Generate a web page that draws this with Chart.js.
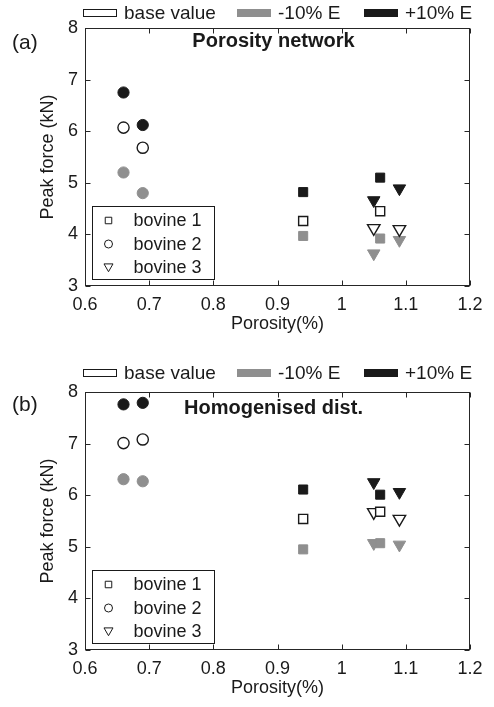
<!DOCTYPE html>
<html>
<head>
<meta charset="utf-8">
<script src="https://cdn.jsdelivr.net/npm/chart.js@4.4.1/dist/chart.umd.min.js"></script>
<style>
  html, body { margin: 0; padding: 0; background: #fff; overflow: hidden; }
  .panel { position: absolute; left: 0; width: 494px; overflow: hidden; }
  #panelA { top: 0; height: 364px; }
  #panelB { top: 364px; height: 343px; }
</style>
</head>
<body>
<div class="panel" id="panelA"><canvas id="chartA" width="494" height="364"></canvas></div>
<div class="panel" id="panelB"><canvas id="chartB" width="494" height="364"></canvas></div>
<script>
// porosity of the two samples of each bovine
const porosityBovine1 = [0.94, 1.06];
const porosityBovine2 = [0.66, 0.69];
const porosityBovine3 = [1.05, 1.09];

// peak force (kN): rows are [base value, -10% E, +10% E], one entry per sample
const networkBovine1 = [[4.26, 4.45], [3.97, 3.92], [4.82, 5.10]];
const networkBovine2 = [[6.07, 5.68], [5.20, 4.80], [6.75, 6.12]];
const networkBovine3 = [[4.12, 4.10], [3.63, 3.89], [4.66, 4.89]];

const homogBovine1 = [[5.54, 5.68], [4.95, 5.07], [6.11, 6.01]];
const homogBovine2 = [[7.01, 7.08], [6.31, 6.27], [7.76, 7.79]];
const homogBovine3 = [[5.67, 5.54], [5.07, 5.04], [6.25, 6.06]];

const bovineLabels = ['bovine 1', 'bovine 2', 'bovine 3'];
const conditionLabels = ['base value', '-10% E', '+10% E'];
const xTicks = [0.6, 0.7, 0.8, 0.9, 1.0, 1.1, 1.2];
const xTickLabels = ['0.6', '0.7', '0.8', '0.9', '1', '1.1', '1.2'];
const yTicks = [3, 4, 5, 6, 7, 8];
const yTickLabels = ['3', '4', '5', '6', '7', '8'];

const FONT = "'Liberation Sans', Arial, Helvetica, sans-serif";
const INK = '#1a1a1a';
const GRAY = '#8f8f8f';
const conditionFill = ['#ffffff', GRAY, INK];
const conditionStroke = [INK, GRAY, INK];
const shapes = ['rect', 'circle', 'triangle'];
const shapeRadius = [6.4, 5.6, 7.2];
const shapeRotation = [0, 0, 180];

function buildDatasets(porosity, forces) {
  const sets = [];
  forces.forEach((rows, b) => {
    rows.forEach((vals, c) => {
      sets.push({
        label: bovineLabels[b] + ' ' + conditionLabels[c],
        data: porosity[b].map((px, i) => ({ x: px, y: vals[i] })),
        pointStyle: shapes[b],
        pointRotation: shapeRotation[b],
        pointRadius: shapeRadius[b],
        pointHoverRadius: shapeRadius[b],
        pointBackgroundColor: conditionFill[c],
        pointBorderColor: conditionStroke[c],
        pointBorderWidth: c === 0 ? 1.4 : 1,
        showLine: false
      });
    });
  });
  return sets;
}

// box, inward ticks, panel tag, heading, and both legends
const decorPlugin = {
  id: 'decor',
  afterDraw(chart, args, o) {
    const { ctx, chartArea: a, scales: { x, y } } = chart;
    const L = Math.round(a.left) + 0.5, R = Math.round(a.right) - 0.5;
    const T = Math.round(a.top) + 0.5, B = Math.round(a.bottom) - 0.5;
    ctx.save();
    ctx.strokeStyle = '#262626';
    ctx.lineWidth = 1;
    ctx.strokeRect(L, T, R - L, B - T);
    ctx.beginPath();
    xTicks.forEach(v => {
      const px = Math.round(x.getPixelForValue(v)) + 0.5;
      ctx.moveTo(px, B); ctx.lineTo(px, B - 5);
      ctx.moveTo(px, T); ctx.lineTo(px, T + 5);
    });
    yTicks.forEach(v => {
      const py = Math.round(y.getPixelForValue(v)) + 0.5;
      ctx.moveTo(L, py); ctx.lineTo(L + 5, py);
      ctx.moveTo(R, py); ctx.lineTo(R - 5, py);
    });
    ctx.stroke();

    ctx.fillStyle = INK;
    ctx.textBaseline = 'middle';
    ctx.font = '21px ' + FONT;
    ctx.textAlign = 'left';
    ctx.fillText(o.tag, 12, o.tagY);

    ctx.font = 'bold 20px ' + FONT;
    ctx.textAlign = 'center';
    ctx.fillText(o.heading, (a.left + a.right) / 2 - 4, o.headingY);

    // condition legend above the axes
    ctx.font = '19px ' + FONT;
    ctx.textAlign = 'left';
    const lx = [83, 237, 364];
    conditionLabels.forEach((lab, c) => {
      ctx.fillStyle = conditionFill[c];
      ctx.fillRect(lx[c], o.legendY - 4, 34, 8);
      if (c === 0) {
        ctx.strokeStyle = INK;
        ctx.strokeRect(lx[c] + 0.5, o.legendY - 3.5, 33, 7);
      }
      ctx.fillStyle = INK;
      ctx.fillText(lab, lx[c] + 41, o.legendY + 1);
    });

    // bovine legend inside the axes
    const bx = a.left + 7.5, by = Math.round(a.bottom) - 79.5;
    ctx.fillStyle = '#fff';
    ctx.fillRect(bx, by, 122, 73);
    ctx.strokeStyle = INK;
    ctx.strokeRect(bx, by, 122, 73);
    ctx.font = '18px ' + FONT;
    bovineLabels.forEach((lab, b) => {
      const ry = by + 14 + b * 23.5;
      ctx.fillStyle = '#fff';
      ctx.strokeStyle = INK;
      Chart.helpers.drawPoint(ctx, {
        pointStyle: shapes[b], rotation: shapeRotation[b],
        radius: b === 2 ? 5.2 : (b === 0 ? 4.6 : 4), borderWidth: 1.2
      }, bx + 16, b === 2 ? ry - 1 : ry);
      ctx.fillStyle = INK;
      ctx.fillText(lab, bx + 41, ry + 1);
    });
    ctx.restore();
  }
};

function makeChart(id, porosity, forces, decor) {
  return new Chart(document.getElementById(id), {
    type: 'scatter',
    data: { datasets: buildDatasets(porosity, forces) },
    plugins: [decorPlugin],
    options: {
      responsive: false,
      animation: false,
      events: [],
      layout: { padding: { top: 28, right: 24, left: 0, bottom: 0 } },
      plugins: {
        legend: { display: false },
        tooltip: { enabled: false },
        decor: decor
      },
      scales: {
        x: {
          type: 'linear', min: 0.6, max: 1.2,
          afterBuildTicks: s => { s.ticks = xTicks.map(v => ({ value: v })); },
          afterFit: s => { s.height = 78; },
          grid: { display: false, drawTicks: false },
          border: { display: false },
          ticks: {
            padding: 8, color: INK, maxRotation: 0, autoSkip: false,
            font: { family: FONT, size: 18 },
            callback: (v, i) => xTickLabels[i]
          },
          title: {
            display: true, text: 'Porosity(%)', color: INK,
            font: { family: FONT, size: 18 },
            padding: { top: 0, bottom: 29 }
          }
        },
        y: {
          type: 'linear', min: 3, max: 8,
          afterBuildTicks: s => { s.ticks = yTicks.map(v => ({ value: v })); },
          afterFit: s => { s.width = 85; },
          grid: { display: false, drawTicks: false },
          border: { display: false },
          ticks: {
            padding: 7, color: INK,
            font: { family: FONT, size: 18 },
            callback: (v, i) => yTickLabels[i]
          },
          title: {
            display: true, text: 'Peak force (kN)', color: INK,
            font: { family: FONT, size: 18 },
            padding: { top: 37, bottom: 0 }
          }
        }
      }
    }
  });
}

makeChart('chartA', [porosityBovine1, porosityBovine2, porosityBovine3],
  [networkBovine1, networkBovine2, networkBovine3],
  { tag: '(a)', tagY: 43, heading: 'Porosity network', headingY: 41, legendY: 13 });

makeChart('chartB', [porosityBovine1, porosityBovine2, porosityBovine3],
  [homogBovine1, homogBovine2, homogBovine3],
  { tag: '(b)', tagY: 41, heading: 'Homogenised dist.', headingY: 44, legendY: 9 });
</script>
</body>
</html>
